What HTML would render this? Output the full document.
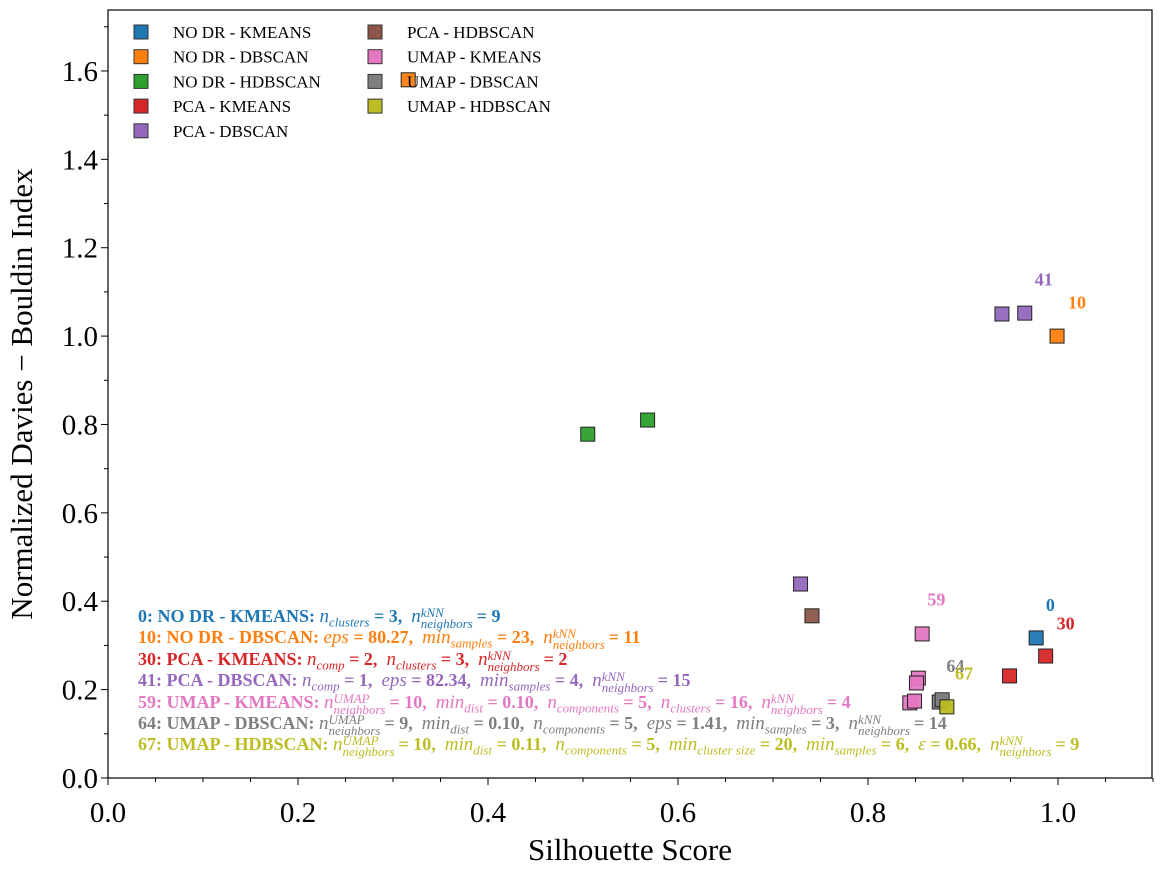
<!DOCTYPE html>
<html><head><meta charset="utf-8"><style>
body{margin:0;background:#fff;}
svg text{font-family:"Liberation Serif",serif;}
.ann{position:absolute;left:138px;font-family:"Liberation Serif",serif;font-weight:bold;font-size:18px;white-space:nowrap;line-height:21px;}
.ann i{font-weight:normal;font-size:19px}
.ann sub,.ann sup{font-style:italic;font-weight:normal;font-size:13px;}
.ann .ss{display:inline-flex;flex-direction:column;vertical-align:middle;font-style:italic;font-weight:normal;font-size:13px;line-height:11px;margin-right:4px}
</style></head><body>
<div style="position:relative;width:1162px;height:875px;">
<svg id="c" width="1162" height="875" style="position:absolute;left:0;top:0"></svg>
<div id="anns">
<div class="ann" style="top:606px;color:#1f77b4">0: NO DR - KMEANS: <i>n</i><sub>clusters</sub> = 3,&nbsp; <i>n</i><span class="ss"><span>kNN</span><span>neighbors</span></span>= 9</div>
<div class="ann" style="top:627px;color:#ff7f0e">10: NO DR - DBSCAN: <i>eps</i> = 80.27,&nbsp; <i>min</i><sub>samples</sub> = 23,&nbsp; <i>n</i><span class="ss"><span>kNN</span><span>neighbors</span></span>= 11</div>
<div class="ann" style="top:649px;color:#d62728">30: PCA - KMEANS: <i>n</i><sub>comp</sub> = 2,&nbsp; <i>n</i><sub>clusters</sub> = 3,&nbsp; <i>n</i><span class="ss"><span>kNN</span><span>neighbors</span></span>= 2</div>
<div class="ann" style="top:670px;color:#9467bd">41: PCA - DBSCAN: <i>n</i><sub>comp</sub> = 1,&nbsp; <i>eps</i> = 82.34,&nbsp; <i>min</i><sub>samples</sub> = 4,&nbsp; <i>n</i><span class="ss"><span>kNN</span><span>neighbors</span></span>= 15</div>
<div class="ann" style="top:692px;color:#e377c2">59: UMAP - KMEANS: <i>n</i><span class="ss"><span>UMAP</span><span>neighbors</span></span>= 10,&nbsp; <i>min</i><sub>dist</sub> = 0.10,&nbsp; <i>n</i><sub>components</sub> = 5,&nbsp; <i>n</i><sub>clusters</sub> = 16,&nbsp; <i>n</i><span class="ss"><span>kNN</span><span>neighbors</span></span>= 4</div>
<div class="ann" style="top:713px;color:#7f7f7f">64: UMAP - DBSCAN: <i>n</i><span class="ss"><span>UMAP</span><span>neighbors</span></span>= 9,&nbsp; <i>min</i><sub>dist</sub> = 0.10,&nbsp; <i>n</i><sub>components</sub> = 5,&nbsp; <i>eps</i> = 1.41,&nbsp; <i>min</i><sub>samples</sub> = 3,&nbsp; <i>n</i><span class="ss"><span>kNN</span><span>neighbors</span></span>= 14</div>
<div class="ann" style="top:734px;color:#bcbd22">67: UMAP - HDBSCAN: <i>n</i><span class="ss"><span>UMAP</span><span>neighbors</span></span>= 10,&nbsp; <i>min</i><sub>dist</sub> = 0.11,&nbsp; <i>n</i><sub>components</sub> = 5,&nbsp; <i>min</i><sub>cluster size</sub> = 20,&nbsp; <i>min</i><sub>samples</sub> = 6,&nbsp; <i>ε</i> = 0.66,&nbsp; <i>n</i><span class="ss"><span>kNN</span><span>neighbors</span></span>= 9</div>
</div>
</div>
<script>
const seriesNames=["NO DR - KMEANS","NO DR - DBSCAN","NO DR - HDBSCAN","PCA - KMEANS","PCA - DBSCAN","PCA - HDBSCAN","UMAP - KMEANS","UMAP - DBSCAN","UMAP - HDBSCAN"];
const seriesColors=["#1f77b4","#ff7f0e","#2ca02c","#d62728","#9467bd","#8c564b","#e377c2","#7f7f7f","#bcbd22"];
const xs=[[0.977],[0.999,0.316],[0.505,0.568],[0.987,0.949],[0.941,0.965,0.729],[0.741],[0.857,0.853,0.851,0.844,0.849],[0.875,0.878],[0.883]];
const ys=[[0.317],[1.0,1.58],[0.778,0.81],[0.276,0.231],[1.05,1.052,0.439],[0.367],[0.326,0.226,0.215,0.17,0.174],[0.172,0.177],[0.161]];
const labelText=["0","10","30","41","59","64","67"];
const labelX=[0.992,1.02,1.008,0.985,0.872,0.892,0.901];
const labelY=[0.378,1.063,0.336,1.114,0.39,0.24,0.223];
const labelSeries=[0,1,3,4,6,7,8];
const xTicks=[0,0.2,0.4,0.6,0.8,1.0];
const yTicks=[0,0.2,0.4,0.6,0.8,1.0,1.2,1.4,1.6];
const L=108,R=1152,T=10,B=778;
const sx=v=>L+950*v, sy=v=>B-441.9*v;
const svg=document.getElementById('c');const NS="http://www.w3.org/2000/svg";
function mk(t,a,p){const e=document.createElementNS(NS,t);for(const k in a)e.setAttribute(k,a[k]);(p||svg).appendChild(e);return e;}
for(let v=0;v<=1.1001;v+=0.05){const x=sx(v);const major=Math.abs(v*5-Math.round(v*5))<1e-6;const t=mk('line',{x1:x,x2:x,y1:B,y2:B+(major?7:4),stroke:'#000','stroke-width':1});

}
xTicks.forEach(v=>{const t=mk('text',{x:sx(v),y:B+44,'text-anchor':'middle','font-size':29});t.textContent=v.toFixed(1);

});
for(let v=0;v<=1.72;v+=0.1){const y=sy(v);const major=Math.abs(v*5-Math.round(v*5))<1e-6;const t=mk('line',{x1:L,x2:L-(major?7:4),y1:y,y2:y,stroke:'#000','stroke-width':1});

}
yTicks.forEach(v=>{const t=mk('text',{x:L-10,y:sy(v)+10,'text-anchor':'end','font-size':29});t.textContent=v.toFixed(1);

});
let xt=mk('text',{x:630,y:860,'text-anchor':'middle','font-size':31});xt.textContent='Silhouette Score';


let yt=mk('text',{x:0,y:0,'text-anchor':'middle','font-size':31,transform:'translate(32,394) rotate(-90)'});yt.textContent='Normalized Davies \u2212 Bouldin Index';


seriesNames.forEach((n,i)=>{xs[i].forEach((xv,j)=>{const r=mk('rect',{x:sx(xv)-7,y:sy(ys[i][j])-7,width:14,height:14,fill:seriesColors[i],stroke:'#222','stroke-width':1,'fill-opacity':0.95});

});});
labelText.forEach((t,i)=>{const e=mk('text',{x:sx(labelX[i]),y:sy(labelY[i]),'text-anchor':'middle','font-size':18,'font-weight':'bold',fill:seriesColors[labelSeries[i]]});e.textContent=t;

});
seriesNames.forEach((n,i)=>{const col=i<5?0:1,row=i<5?i:i-5;const mx=col?375:141,my=32+row*24.7;
const r=mk('rect',{x:mx-7,y:my-7,width:14,height:14,fill:seriesColors[i],stroke:'#333','stroke-width':1});


const t=mk('text',{x:mx+32,y:my+6,'font-size':17});t.textContent=n;

});
const f=mk('rect',{x:L,y:T,width:R-L,height:B-T,fill:'none',stroke:'#000','stroke-width':1.2});


</script>
</body></html>
